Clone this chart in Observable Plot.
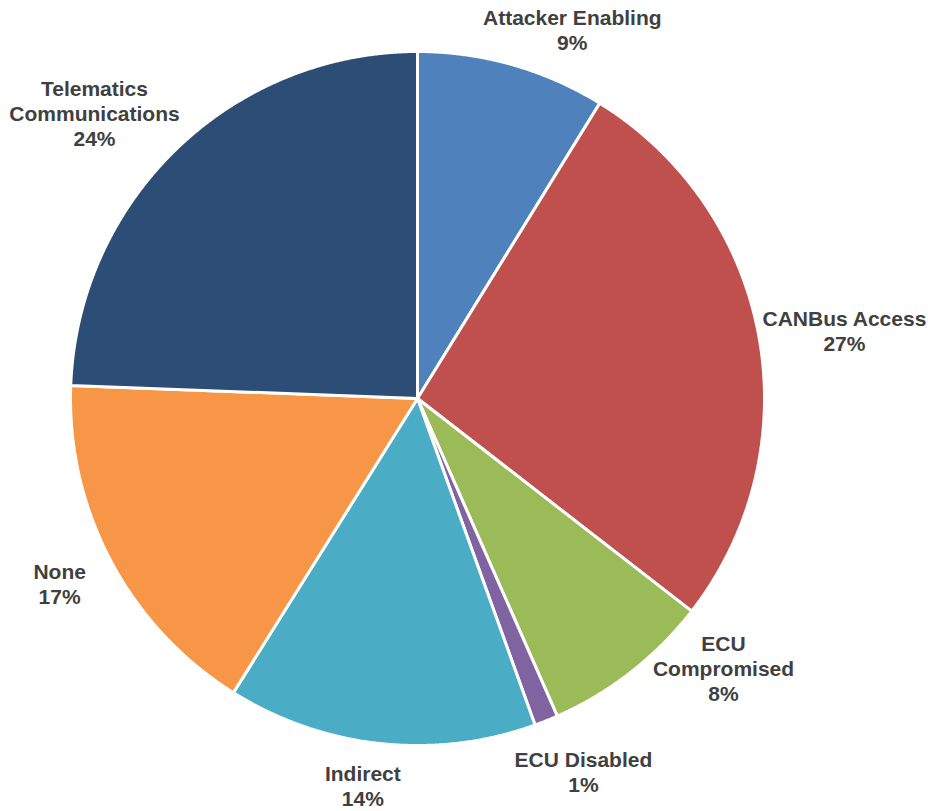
<!DOCTYPE html>
<html>
<head>
<meta charset="utf-8">
<script src="https://cdn.jsdelivr.net/npm/d3@7"></script>
<script src="https://cdn.jsdelivr.net/npm/@observablehq/plot@0.6"></script>
<style>
  html, body { margin: 0; padding: 0; background: #fff; }
  #chart { width: 928px; height: 811px; }
</style>
</head>
<body>
<div id="chart"></div>
<script>
// ---- data ----
const categories = ["Attacker Enabling", "CANBus Access", "ECU Compromised", "ECU Disabled", "Indirect", "None", "Telematics Communications"];
const values = [8.8, 26.7, 7.9, 1.1, 14.4, 16.7, 24.4];
const labelNames = ["Attacker Enabling", "CANBus Access", "ECU\nCompromised", "ECU Disabled", "Indirect", "None", "Telematics\nCommunications"];
const percentLabels = ["9%", "27%", "8%", "1%", "14%", "17%", "24%"];
const colors = ["#4F81BD", "#C0504D", "#9BBB59", "#8064A2", "#4BACC6", "#F79646", "#2C4D75"];

// ---- layout (not data) ----
const cx = 417, cy = 398, r = 347;
const labelRadius = 1.18;
const labelNudge = [[43, 25], [24, 5], [54, -53], [14, -7], [-11, -20], [4, -7], [-39, 9]];

// slice geometry from the values via d3.pie (0 = 12 o'clock, clockwise)
const arcs = d3.pie().sort(null).value(d => d)(values);
const slicePoints = [];
arcs.forEach((a, i) => {
  const name = categories[i];
  slicePoints.push({name, x: 0, y: 0});
  const n = Math.max(2, Math.ceil((a.endAngle - a.startAngle) / (Math.PI / 720)));
  for (let k = 0; k <= n; k++) {
    const t = a.startAngle + (a.endAngle - a.startAngle) * k / n;
    slicePoints.push({name, x: Math.sin(t), y: Math.cos(t)});
  }
  slicePoints.push({name, x: 0, y: 0});
});

const labels = arcs.map((a, i) => {
  const m = (a.startAngle + a.endAngle) / 2;
  return {name: categories[i], text: labelNames[i] + "\n" + percentLabels[i],
          x: labelRadius * Math.sin(m), y: labelRadius * Math.cos(m),
          dx: labelNudge[i][0], dy: labelNudge[i][1]};
});

const plot = Plot.plot({
  width: 928,
  height: 811,
  margin: 0,
  x: {domain: [-1, 1], range: [cx - r, cx + r], axis: null},
  y: {domain: [-1, 1], range: [cy + r, cy - r], axis: null},
  color: {domain: categories, range: colors},
  style: {background: "#fff"},
  marks: [
    Plot.line(slicePoints, {
      x: "x", y: "y", z: "name", fill: "name",
      stroke: "#fff", strokeWidth: 3, strokeLinejoin: "miter", curve: "linear"
    }),
    ...labels.map(l => Plot.text([l], {
      x: "x", y: "y", text: "text", dx: l.dx, dy: l.dy,
      fill: "#404040", fontSize: 21, fontWeight: "bold",
      fontFamily: "Liberation Sans, Arial, sans-serif",
      lineHeight: 1.19, textAnchor: "middle"
    }))
  ]
});
document.getElementById("chart").appendChild(plot);
</script>
</body>
</html>
